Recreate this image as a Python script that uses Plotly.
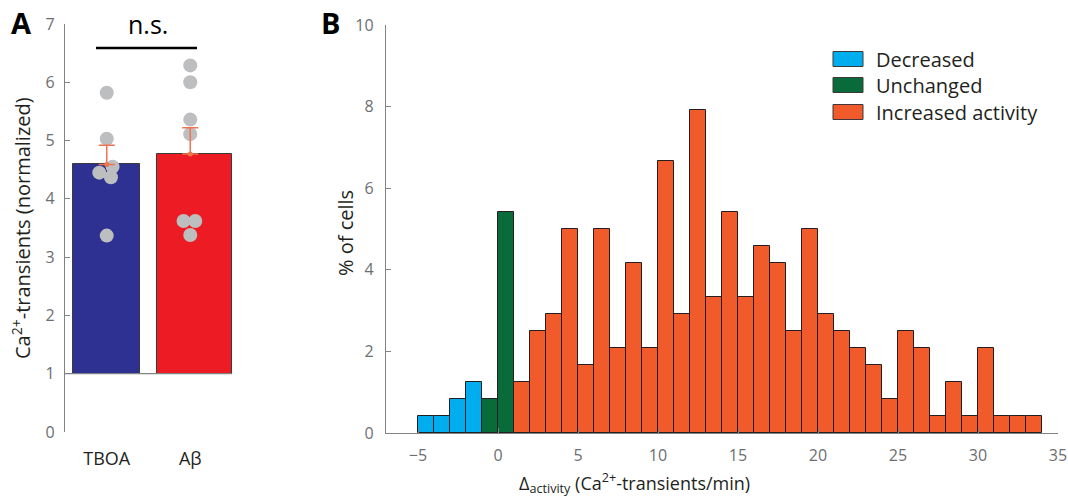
import plotly.graph_objects as go

W, H = 1068, 499

# ---------------- Panel A data ----------------
groups = ["TBOA", "Aβ"]
group_pos = [1, 2]
means = [4.59, 4.77]
sem = [0.33, 0.45]
tboa_points = [5.82, 5.03, 4.55, 4.45, 4.37, 3.37]
tboa_jitter = [0.0, 0.0, 0.07, -0.09, 0.05, 0.0]
abeta_points = [6.29, 6.00, 5.36, 5.11, 3.62, 3.62, 3.38]
abeta_jitter = [0.0, 0.0, 0.0, 0.0, -0.08, 0.06, 0.0]

# ---------------- Panel B data (% of cells) ----------------
decreased_bins = [-4.5, -3.5, -2.5, -1.5]
decreased_pct = [0.42, 0.42, 0.83, 1.25]
unchanged_bins = [-0.5, 0.5]
unchanged_pct = [0.83, 5.42]
increased_bins = [1.5, 2.5, 3.5, 4.5, 5.5, 6.5, 7.5, 8.5, 9.5, 10.5, 11.5,
                  12.5, 13.5, 14.5, 15.5, 16.5, 17.5, 18.5, 19.5, 20.5, 21.5,
                  22.5, 23.5, 24.5, 25.5, 26.5, 27.5, 28.5, 29.5, 30.5, 31.5,
                  32.5, 33.5]
increased_pct = [1.25, 2.50, 2.92, 5.00, 1.67, 5.00, 2.08, 4.17, 2.08, 6.67,
                 2.92, 7.92, 3.33, 5.42, 3.33, 4.58, 4.17, 2.50, 5.00, 2.92,
                 2.50, 2.08, 1.67, 0.83, 2.50, 2.08, 0.42, 1.25, 0.42, 2.08,
                 0.42, 0.42, 0.42]
legend_labels = ["Decreased", "Unchanged", "Increased activity"]

C_BLUE = "#00aeef"
C_GREEN = "#096a3a"
C_ORANGE = "#f15a2b"
C_NAVY = "#2e3192"
C_RED = "#ed1c24"
C_DOT = "#bcbec0"
C_ERR = "#f0744e"
AX = "#808285"
TICK = "#6d6e71"
FONT = "Open Sans"


def px_x(p):
    return p / W


def px_y(p):
    return 1 - p / H


fig = go.Figure()

# Panel A bars
fig.add_trace(go.Bar(
    x=group_pos, y=[m - 1 for m in means], base=[1, 1],
    width=[0.8, 0.9], offset=[-0.4, -0.4],
    marker=dict(color=[C_NAVY, C_RED], line=dict(color="#3a3a3a", width=1)),
    xaxis="x", yaxis="y", showlegend=False, hoverinfo="skip"))

# individual points
fig.add_trace(go.Scatter(
    x=[group_pos[0] + j for j in tboa_jitter] + [group_pos[1] + j for j in abeta_jitter],
    y=tboa_points + abeta_points, mode="markers",
    marker=dict(color=C_DOT, size=14, line=dict(width=0)),
    xaxis="x", yaxis="y", showlegend=False))

# error bars (SEM)
fig.add_trace(go.Scatter(
    x=group_pos, y=means, mode="markers",
    marker=dict(color=C_ERR, size=5),
    error_y=dict(type="data", array=sem, arrayminus=[0, 0], symmetric=False,
                 color=C_ERR, thickness=1.5, width=8),
    xaxis="x", yaxis="y", showlegend=False))

# Panel B histogram
for bins, vals, col, name in [(decreased_bins, decreased_pct, C_BLUE, legend_labels[0]),
                              (unchanged_bins, unchanged_pct, C_GREEN, legend_labels[1]),
                              (increased_bins, increased_pct, C_ORANGE, legend_labels[2])]:
    fig.add_trace(go.Bar(
        x=bins, y=vals, width=1, name=name,
        marker=dict(color=col, line=dict(color="#231f20", width=1)),
        xaxis="x2", yaxis="y2", showlegend=False))

axis_common = dict(showgrid=False, zeroline=False, showline=True, linecolor=AX,
                   linewidth=1.3, ticks="inside", ticklen=5, tickcolor=AX,
                   tickwidth=1.3, automargin=False,
                   tickfont=dict(family=FONT, size=16, color=TICK))

fig.update_layout(
    template="none",
    width=W, height=H, margin=dict(l=0, r=0, t=0, b=0, autoexpand=False),
    paper_bgcolor="white", plot_bgcolor="white", bargap=0,
    barmode="overlay", showlegend=False,
    xaxis=dict(domain=[px_x(65), px_x(232)], range=[0.5, 2.5], showgrid=False,
               zeroline=False, showline=False, ticks="", tickvals=group_pos,
               ticktext=groups, ticklabelstandoff=14, automargin=False,
               tickfont=dict(family=FONT, size=18, color="#231f20"),
               anchor="y"),
    yaxis=dict(domain=[px_y(432), px_y(24)], range=[0, 7], tickvals=list(range(8)),
               anchor="x", ticklabelstandoff=6, **axis_common),
    xaxis2=dict(domain=[px_x(386), px_x(1058)], range=[-7, 35],
                tickvals=[-5, 0, 5, 10, 15, 20, 25, 30, 35], anchor="y2",
                ticklabelstandoff=8, **axis_common),
    yaxis2=dict(domain=[px_y(433), px_y(25)], range=[0, 10],
                tickvals=[0, 2, 4, 6, 8, 10], anchor="x2", ticklabelstandoff=8,
                **axis_common),
)

# Baseline of panel A bars (at value 1)
fig.add_shape(type="line", xref="x", yref="y", x0=0.5, x1=2.5, y0=1, y1=1,
              line=dict(color=AX, width=1.3))

# significance bar
fig.add_shape(type="line", xref="paper", yref="paper", x0=px_x(96), x1=px_x(197),
              y0=px_y(48), y1=px_y(48), line=dict(color="black", width=2.5))

ann = [
    dict(text="n.s.", x=px_x(148), y=px_y(24), size=25, color="black"),
    dict(text="<b>A</b>", x=px_x(22), y=px_y(22), size=29, color="black"),
    dict(text="<b>B</b>", x=px_x(330), y=px_y(22), size=29, color="black"),
    dict(text="Ca<sup>2+</sup>-transients (normalized)", x=px_x(21), y=px_y(228),
         size=20, color="#231f20", angle=-90),
    dict(text="% of cells", x=px_x(345), y=px_y(233), size=20, color="#231f20", angle=-90),
    dict(text="Δ<sub>activity</sub> (Ca<sup>2+</sup>-transients/min)", x=px_x(634),
         y=px_y(483), size=18, color="#231f20"),
]
for a in ann:
    fig.add_annotation(text=a["text"], x=a["x"], y=a["y"], xref="paper", yref="paper",
                       showarrow=False, xanchor="center", yanchor="middle",
                       textangle=a.get("angle", 0),
                       font=dict(family=FONT, size=a["size"], color=a["color"]))

# Legend (drawn manually to match rectangular swatches)
legend_y = [59, 85, 112]
for lab, col, yc in zip(legend_labels, [C_BLUE, C_GREEN, C_ORANGE], legend_y):
    fig.add_shape(type="rect", xref="paper", yref="paper",
                  x0=px_x(833), x1=px_x(863), y0=px_y(yc + 7.5), y1=px_y(yc - 7.5),
                  fillcolor=col, line=dict(color="#3a3a3a", width=1))
    fig.add_annotation(text=lab, x=px_x(874), y=px_y(yc), xref="paper", yref="paper",
                       showarrow=False, xanchor="left", yanchor="middle",
                       font=dict(family=FONT, size=20, color="#231f20"))

fig.write_html("out.html")
